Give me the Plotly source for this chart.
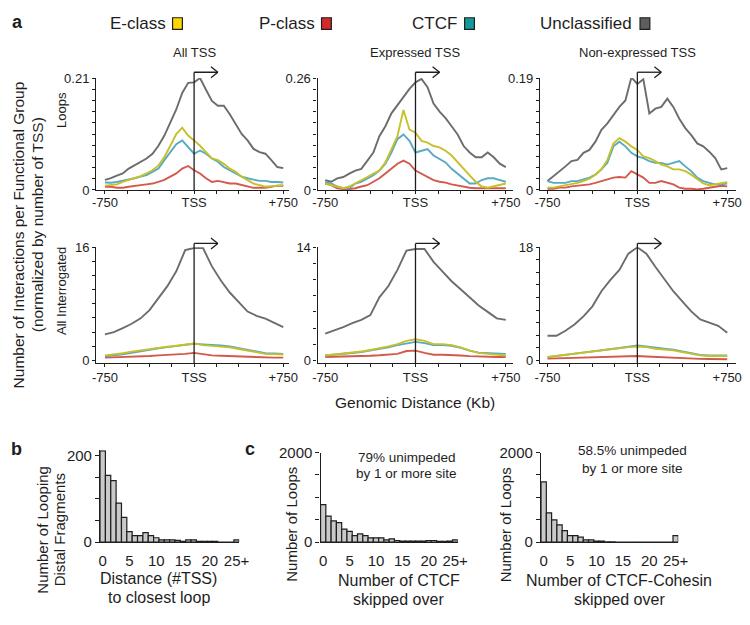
import plotly.graph_objects as go

W, H = 750, 625

# ---------------- data ----------------
kb_top = [-750, -700, -650, -600, -550, -500, -450, -400, -350, -300, -250, -200, -150, -100, -50,
          0, 50, 100, 150, 200, 250, 300, 350, 400, 450, 500, 550, 600, 650, 700, 750]
kb_bot = [-750, -675, -600, -525, -450, -375, -300, -225, -150, -75,
          0, 75, 150, 225, 300, 375, 450, 525, 600, 675, 750]

# Loops, All TSS
all_loops_uncl = [0.019, 0.022, 0.027, 0.031, 0.040, 0.046, 0.053, 0.059, 0.068, 0.083, 0.102, 0.127, 0.151, 0.182, 0.201,
                  0.202, 0.210, 0.188, 0.167, 0.158, 0.158, 0.142, 0.124, 0.105, 0.093, 0.077, 0.071, 0.068, 0.056, 0.043, 0.041]
all_loops_e = [0.008, 0.009, 0.0105, 0.015, 0.0185, 0.022, 0.026, 0.031, 0.037, 0.046, 0.062, 0.083, 0.105, 0.117, 0.102,
               0.093, 0.083, 0.071, 0.059, 0.056, 0.049, 0.040, 0.034, 0.025, 0.019, 0.012, 0.009, 0.006, 0.007, 0.008, 0.009]
all_loops_ctcf = [0.014, 0.0136, 0.015, 0.017, 0.019, 0.022, 0.025, 0.028, 0.034, 0.040, 0.056, 0.071, 0.086, 0.093, 0.080,
                  0.068, 0.074, 0.068, 0.059, 0.053, 0.043, 0.037, 0.031, 0.025, 0.022, 0.019, 0.017, 0.017, 0.015, 0.015, 0.014]
all_loops_p = [0.006, 0.006, 0.004, 0.004, 0.006, 0.007, 0.009, 0.0105, 0.012, 0.015, 0.019, 0.025, 0.031, 0.040, 0.045,
               0.037, 0.031, 0.022, 0.015, 0.017, 0.015, 0.012, 0.012, 0.009, 0.006, 0.004, 0.004, 0.004, 0.006, 0.008, 0.008]

# Loops, Expressed TSS
expr_loops_uncl = [0.023, 0.019, 0.027, 0.030, 0.038, 0.045, 0.049, 0.068, 0.087, 0.125, 0.148, 0.178, 0.197, 0.216, 0.235,
                   0.250, 0.258, 0.239, 0.201, 0.182, 0.167, 0.148, 0.129, 0.102, 0.087, 0.076, 0.076, 0.087, 0.076, 0.061, 0.053]
expr_loops_e = [0.015, 0.011, 0.008, 0.004, 0.008, 0.015, 0.023, 0.030, 0.038, 0.045, 0.064, 0.095, 0.125, 0.186, 0.140,
                0.133, 0.114, 0.110, 0.102, 0.099, 0.091, 0.080, 0.064, 0.049, 0.034, 0.019, 0.008, 0.005, 0.008, 0.011, 0.015]
expr_loops_ctcf = [0.019, 0.015, 0.008, 0.004, 0.004, 0.015, 0.019, 0.027, 0.034, 0.045, 0.061, 0.087, 0.118, 0.129, 0.114,
                   0.087, 0.091, 0.095, 0.080, 0.072, 0.064, 0.049, 0.038, 0.027, 0.015, 0.015, 0.023, 0.027, 0.027, 0.023, 0.019]
expr_loops_p = [0.015, 0.011, 0.004, 0.002, 0.002, 0.004, 0.008, 0.011, 0.019, 0.027, 0.038, 0.049, 0.061, 0.068, 0.061,
                0.045, 0.038, 0.030, 0.023, 0.019, 0.017, 0.013, 0.010, 0.008, 0.005, 0.004, 0.004, 0.004, 0.005, 0.005, 0.004]

# Loops, Non-expressed TSS
nonexpr_loops_uncl = [0.015, 0.023, 0.032, 0.040, 0.049, 0.051, 0.063, 0.068, 0.082, 0.102, 0.113, 0.127, 0.141, 0.152, 0.191,
                      0.180, 0.188, 0.130, 0.138, 0.141, 0.155, 0.141, 0.121, 0.105, 0.093, 0.079, 0.074, 0.065, 0.054, 0.035, 0.037]
nonexpr_loops_e = [0.004, 0.004, 0.006, 0.008, 0.0095, 0.012, 0.015, 0.019, 0.026, 0.035, 0.051, 0.079, 0.088, 0.082, 0.074,
                   0.068, 0.057, 0.054, 0.049, 0.043, 0.040, 0.035, 0.035, 0.032, 0.026, 0.018, 0.011, 0.008, 0.0095, 0.012, 0.013]
nonexpr_loops_ctcf = [0.015, 0.012, 0.012, 0.012, 0.015, 0.015, 0.018, 0.021, 0.026, 0.035, 0.046, 0.074, 0.082, 0.074, 0.063,
                      0.057, 0.054, 0.049, 0.046, 0.046, 0.043, 0.046, 0.049, 0.040, 0.032, 0.021, 0.015, 0.012, 0.0095, 0.0095, 0.011]
nonexpr_loops_p = [0.002, 0.002, 0.004, 0.004, 0.006, 0.007, 0.008, 0.0095, 0.012, 0.015, 0.018, 0.021, 0.022, 0.021, 0.032,
                   0.026, 0.021, 0.012, 0.012, 0.015, 0.012, 0.0095, 0.004, 0.002, 0.002, 0.001, 0.002, 0.004, 0.006, 0.007, 0.006]

# All interrogated
all_int_uncl = [3.66, 3.98, 4.57, 5.17, 5.94, 7.1, 8.8, 10.5, 12.6, 15.6, 15.9, 15.9, 13.3, 11.3, 9.6, 8.2, 6.9, 6.3, 5.9, 5.3, 4.7]
all_int_e = [0.69, 0.82, 1.0, 1.23, 1.42, 1.6, 1.78, 1.92, 2.06, 2.24, 2.38, 2.15, 2.06, 1.97, 1.83, 1.6, 1.37, 1.05, 0.91, 0.87, 0.82]
all_int_ctcf = [0.55, 0.66, 0.85, 1.05, 1.28, 1.5, 1.7, 1.86, 2.0, 2.2, 2.35, 2.25, 2.2, 2.1, 1.95, 1.7, 1.45, 1.15, 1.0, 0.95, 0.9]
all_int_p = [0.37, 0.4, 0.46, 0.5, 0.55, 0.6, 0.69, 0.75, 0.82, 0.9, 1.05, 0.87, 0.69, 0.64, 0.59, 0.52, 0.46, 0.4, 0.37, 0.37, 0.37]

expr_int_uncl = [3.3, 3.7, 4.1, 4.6, 5.0, 5.6, 7.8, 9.2, 11.2, 13.6, 13.8, 13.8, 12.2, 11.0, 9.8, 8.8, 7.8, 6.8, 6.0, 5.2, 5.0]
expr_int_e = [0.6, 0.7, 0.8, 0.95, 1.08, 1.28, 1.48, 1.72, 2.0, 2.4, 2.6, 2.4, 2.0, 2.0, 1.88, 1.6, 1.2, 0.92, 0.8, 0.72, 0.6]
expr_int_ctcf = [0.6, 0.68, 0.78, 0.9, 1.02, 1.2, 1.38, 1.6, 1.88, 2.12, 2.28, 2.12, 1.88, 1.9, 1.8, 1.55, 1.2, 0.95, 0.9, 0.85, 0.8]
expr_int_p = [0.4, 0.42, 0.45, 0.48, 0.52, 0.56, 0.62, 0.7, 0.8, 1.15, 1.2, 0.92, 0.68, 0.68, 0.68, 0.6, 0.52, 0.46, 0.4, 0.4, 0.4]

nonexpr_int_uncl = [3.9, 3.9, 4.7, 5.7, 7.0, 8.6, 11.0, 12.8, 14.4, 17.0, 18.0, 17.0, 14.9, 13.0, 11.0, 9.4, 7.8, 6.5, 6.0, 5.5, 4.4]
nonexpr_int_e = [0.52, 0.7, 0.89, 1.02, 1.15, 1.36, 1.57, 1.78, 1.98, 2.09, 2.19, 2.09, 1.83, 1.7, 1.57, 1.3, 1.04, 0.78, 0.68, 0.68, 0.68]
nonexpr_int_ctcf = [0.5, 0.68, 0.86, 1.0, 1.12, 1.32, 1.52, 1.74, 1.95, 2.15, 2.35, 2.19, 1.98, 1.85, 1.7, 1.45, 1.15, 0.85, 0.75, 0.75, 0.75]
nonexpr_int_p = [0.26, 0.3, 0.33, 0.35, 0.37, 0.4, 0.45, 0.5, 0.52, 0.6, 0.68, 0.6, 0.52, 0.45, 0.37, 0.32, 0.26, 0.22, 0.2, 0.18, 0.16]

# Histograms
hist_bins = [0, 1, 2, 3, 4, 5, 6, 7, 8, 9, 10, 11, 12, 13, 14, 15, 16, 17, 18, 19, 20, 21, 22, 23, 24, 25]
hist_ticks = [0, 5, 10, 15, 20, 25]
hist_ticktext = ["0", "5", "10", "15", "20", "25+"]
dist_to_loop = [211, 154, 142, 90, 57, 24, 15, 15, 22, 15, 10, 5, 5, 5, 4, 2, 5, 5, 2, 2, 2, 2, 0, 0, 0, 5]
ctcf_skipped = [836, 582, 473, 436, 291, 240, 145, 182, 145, 95, 95, 95, 50, 73, 36, 22, 22, 22, 22, 22, 36, 36, 15, 15, 22, 50]
cohesin_skipped = [1345, 655, 495, 385, 255, 145, 145, 110, 50, 50, 22, 22, 8, 5, 0, 0, 0, 0, 0, 0, 0, 0, 0, 0, 0, 145]

classes = ["E-class", "P-class", "CTCF", "Unclassified"]
panel_titles = ["All TSS", "Expressed TSS", "Non-expressed TSS"]
top_max = [0.21, 0.26, 0.19]
bot_max = [16, 14, 18]

# ---------------- styling ----------------
FN = "Liberation Sans Narrow, Arial Narrow, Liberation Sans, Arial, sans-serif"
FR = "Liberation Sans, Arial, sans-serif"
INK = "#1e1e1e"
LINE_COL = {"E-class": "#c6c02a", "P-class": "#d3594b", "CTCF": "#58a9c2", "Unclassified": "#6c6c6c"}
BOX_COL = {"E-class": "#ffd800", "P-class": "#d42a2a", "CTCF": "#16999a", "Unclassified": "#5e5e5e"}


def fx(p):
    return p / W


def fy(p):
    return 1 - p / H


fig = go.Figure()
layout = dict(width=W, height=H, margin=dict(l=0, r=0, t=0, b=0), showlegend=False,
              paper_bgcolor="white", plot_bgcolor="white")

col_px = [(93, 290, -824, 800), (319, 518, -813, 807), (546, 746, -812, 824)]
top_px = (71, 186)
bot_px = (245, 364)

top_series = [
    (all_loops_uncl, all_loops_p, all_loops_ctcf, all_loops_e),
    (expr_loops_uncl, expr_loops_p, expr_loops_ctcf, expr_loops_e),
    (nonexpr_loops_uncl, nonexpr_loops_p, nonexpr_loops_ctcf, nonexpr_loops_e),
]
bot_series = [
    (all_int_uncl, all_int_p, all_int_ctcf, all_int_e),
    (expr_int_uncl, expr_int_p, expr_int_ctcf, expr_int_e),
    (nonexpr_int_uncl, nonexpr_int_p, nonexpr_int_ctcf, nonexpr_int_e),
]
order = ["Unclassified", "P-class", "CTCF", "E-class"]

shapes = []
annotations = []


def axis_common():
    return dict(showline=True, linecolor=INK, linewidth=1.3, ticks="outside", ticklen=3,
                tickwidth=1, tickcolor=INK, showgrid=False, zeroline=False,
                tickfont=dict(family=FN, size=13, color=INK))


ax_i = 0
for row in range(2):
    for c in range(3):
        ax_i += 1
        xs = "" if ax_i == 1 else str(ax_i)
        x0p, x1p, r0, r1 = col_px[c]
        ypx = top_px if row == 0 else bot_px
        ymax = top_max[c] if row == 0 else bot_max[c]
        kb = kb_top if row == 0 else kb_bot
        series = top_series[c] if row == 0 else bot_series[c]
        for name, vals in zip(order, series):
            fig.add_trace(go.Scatter(x=kb, y=vals, mode="lines", xaxis="x" + xs, yaxis="y" + xs,
                                     line=dict(color=LINE_COL[name], width=1.9), name=name,
                                     hoverinfo="skip"))
        xa = axis_common()
        xa.update(domain=[fx(x0p), fx(x1p)], range=[r0, r1], anchor="y" + xs,
                  tickvals=[-750, -562.5, -375, -187.5, 0, 187.5, 375, 562.5, 750],
                  ticktext=["-750", "", "", "", "TSS", "", "", "", "+750"],
                  ticklabelstandoff=-3 if row == 0 else -1)
        ya = axis_common()
        if row == 0:
            nint = 10
            yr = [0, ymax]
        else:
            nint = int(ymax / 2)
            yr = [-0.025 * ymax, ymax]
        tv = [ymax * k / nint for k in range(nint + 1)]
        tt = ["0"] + [""] * (nint - 1) + [("%g" % ymax)]
        ya.update(domain=[fy(ypx[1]), fy(ypx[0])], range=yr, anchor="x" + xs,
                  tickvals=tv, ticktext=tt)
        layout["xaxis" + xs] = xa
        layout["yaxis" + xs] = ya

        # TSS arrow
        arrow_py = 65 if row == 0 else 241
        y_ax = fy(ypx[1])
        ya_ = fy(arrow_py)
        tip = 200
        xref = "x" + xs
        ln = dict(color=INK, width=1.3)
        shapes.append(dict(type="line", xref=xref, yref="paper", x0=0, x1=0, y0=y_ax, y1=ya_, line=ln))
        shapes.append(dict(type="line", xref=xref, yref="paper", x0=0, x1=tip, y0=ya_, y1=ya_, line=ln))
        shapes.append(dict(type="line", xref=xref, yref="paper", x0=tip - 58, x1=tip,
                           y0=ya_ + 0.009, y1=ya_, line=ln))
        shapes.append(dict(type="line", xref=xref, yref="paper", x0=tip - 58, x1=tip,
                           y0=ya_ - 0.009, y1=ya_, line=ln))
        if row == 0:
            annotations.append(dict(text=panel_titles[c], xref=xref, yref="paper", x=0, y=fy(45),
                                    xanchor="center", yanchor="middle",
                                    showarrow=False, font=dict(family=FN, size=13, color=INK)))

# Histograms
hist_specs = [
    (dist_to_loop, (97, 239), (453.7, 548), [0, 212], [0, 50, 100, 150, 200], ["0", "", "", "", "200"]),
    (ctcf_skipped, (322, 462), (456, 548), [0, 2000], [0, 500, 1000, 1500, 2000], ["0", "", "", "", "2000"]),
    (cohesin_skipped, (547, 687), (456, 548), [0, 2000], [0, 500, 1000, 1500, 2000], ["0", "", "", "", "2000"]),
]
for vals, xp, yp, yr, tv, tt in hist_specs:
    ax_i += 1
    xs = str(ax_i)
    fig.add_trace(go.Bar(x=hist_bins, y=vals, width=1, xaxis="x" + xs, yaxis="y" + xs,
                         marker=dict(color="#c9c9c9", line=dict(color=INK, width=1.2)),
                         hoverinfo="skip"))
    xa = axis_common()
    xa.update(domain=[fx(xp[0]), fx(xp[1])], range=[-0.5, 25.5], anchor="y" + xs,
              tickvals=hist_ticks, ticktext=hist_ticktext, ticks="", ticklabelstandoff=5,
              tickfont=dict(family=FR, size=15, color=INK))
    ya = axis_common()
    ya.update(domain=[fy(yp[1]), fy(yp[0])], range=yr, anchor="x" + xs,
              tickvals=tv, ticktext=tt, ticklen=4,
              tickfont=dict(family=FR, size=15, color=INK))
    layout["xaxis" + xs] = xa
    layout["yaxis" + xs] = ya

# Legend (text + swatch)
legend_px = [("E-class", 166, 171), ("P-class", 318, 323), ("CTCF", 463, 469), ("Unclassified", 642, 648)]
for name, txt_right, box_left in legend_px:
    annotations.append(dict(text=name, xref="paper", yref="paper", x=fx(txt_right), y=fy(15),
                            xanchor="right", yanchor="middle", showarrow=False,
                            font=dict(family=FN, size=17, color=INK)))
    shapes.append(dict(type="rect", xref="paper", yref="paper", x0=fx(box_left), x1=fx(box_left + 10),
                       y0=fy(21), y1=fy(9), fillcolor=BOX_COL[name], line=dict(color=INK, width=1.2)))


def txt(text, x, y, size, family=FR, angle=0, bold=False, xanchor="center"):
    if bold:
        text = "<b>" + text + "</b>"
    annotations.append(dict(text=text, xref="paper", yref="paper", x=fx(x), y=fy(y), showarrow=False,
                            textangle=angle, xanchor=xanchor, yanchor="middle",
                            font=dict(family=family, size=size, color=INK)))


txt("a", 13, 13, 18, bold=True)
txt("b", 12, 452, 18, bold=True)
txt("c", 250, 452, 18, bold=True)
txt("Number of Interactions per Functional Group", 14, 232, 15.5, angle=-90)
txt("(normalized by number of TSS)", 34, 222, 15.5, angle=-90)
txt("Loops", 57, 104, 13, family=FN, angle=-90)
txt("All Interrogated", 57, 290, 13, family=FN, angle=-90)
txt("Genomic Distance (Kb)", 418, 405, 15.5)
txt("Number of Looping", 38, 535, 15, angle=-90)
txt("Distal Fragments", 56, 535, 15, angle=-90)
txt("Distance (#TSS)", 157, 585, 16)
txt("to closest loop", 157, 605, 16)
txt("Number of Loops", 292, 530, 15, angle=-90)
txt("Number of Loops", 511, 530, 15, angle=-90)
txt("Number of CTCF", 402, 587, 16)
txt("skipped over", 402, 607, 16)
txt("Number of CTCF-Cohesin", 627, 587, 16)
txt("skipped over", 627, 607, 16)
txt("79% unimpeded", 410, 461, 13.5)
txt("by 1 or more site", 410, 477, 13.5)
txt("58.5% unimpeded", 640, 454, 13.5)
txt("by 1 or more site", 640, 472, 13.5)

layout["shapes"] = shapes
layout["annotations"] = annotations
fig.update_layout(**layout)
fig.write_html("out.html")
